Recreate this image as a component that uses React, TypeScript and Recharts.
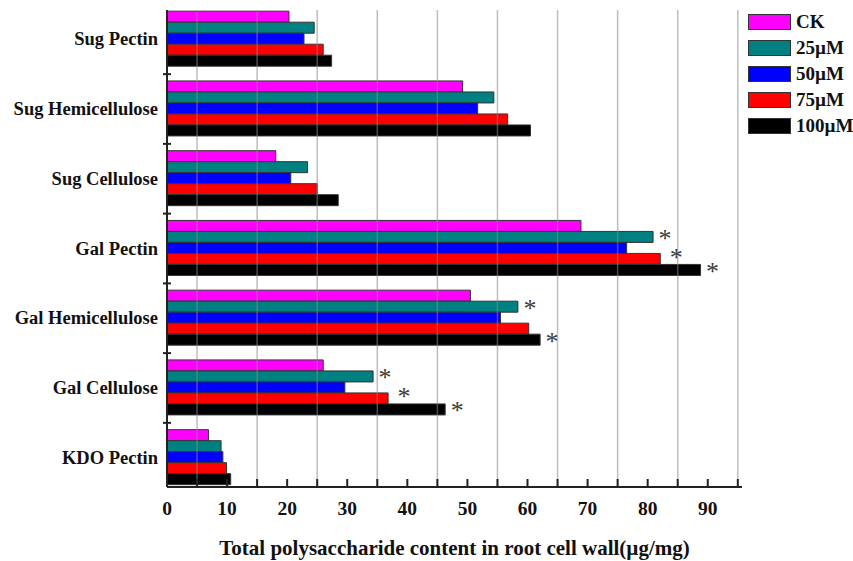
import React from 'react';
import { BarChart, Bar, XAxis, YAxis, ReferenceLine, LabelList } from 'recharts';

const categories = [
  'Sug Pectin',
  'Sug Hemicellulose',
  'Sug Cellulose',
  'Gal Pectin',
  'Gal Hemicellulose',
  'Gal Cellulose',
  'KDO Pectin',
];
const ck = [20.3, 49.2, 18.1, 68.9, 50.5, 26.0, 6.9];
const um25 = [24.5, 54.4, 23.4, 80.9, 58.4, 34.3, 9.0];
const um50 = [22.8, 51.7, 20.6, 76.5, 55.5, 29.6, 9.3];
const um75 = [26.0, 56.7, 25.0, 82.1, 60.2, 36.8, 9.9];
const um100 = [27.4, 60.5, 28.5, 88.8, 62.1, 46.3, 10.6];

// significance marks (*)
const star25 = [0, 0, 0, 1, 1, 1, 0];
const star75 = [0, 0, 0, 1, 0, 1, 0];
const star100 = [0, 0, 0, 1, 1, 1, 0];

const xTicks = [0, 5, 10, 15, 20, 25, 30, 35, 40, 45, 50, 55, 60, 65, 70, 75, 80, 85, 90, 95];
const gridValues = [5, 15, 25, 35, 45, 55, 65, 75, 85, 95];

const series = [
  { key: 'ck', name: 'CK', color: '#ff00ff' },
  { key: 'um25', name: '25\u00b5M', color: '#008080' },
  { key: 'um50', name: '50\u00b5M', color: '#0000ff' },
  { key: 'um75', name: '75\u00b5M', color: '#ff0000' },
  { key: 'um100', name: '100\u00b5M', color: '#000000' },
];

const data = categories.map((name, i) => ({
  name,
  ck: ck[i],
  um25: um25[i],
  um50: um50[i],
  um75: um75[i],
  um100: um100[i],
  s25: star25[i] ? '*' : '',
  s75: star75[i] ? '*' : '',
  s100: star100[i] ? '*' : '',
}));

const W = 853;
const H = 561;
const TOP = 10;
const X_AXIS_H = 74;
const Y_PAD = -5.6;
const PLOT_H = H - TOP - X_AXIS_H;
const BAND = (PLOT_H - 2 * Y_PAD) / categories.length;

const FONT = '"Liberation Serif", "Times New Roman", serif';

function YTick(props: any) {
  const { x, y, payload, index } = props;
  return (
    <g>
      <text x={x - 9} y={y} textAnchor="end" dominantBaseline="central"
        fontFamily={FONT} fontWeight="bold" fontSize={18.5} fill="#111">
        {payload.value}
      </text>
      {index < categories.length - 1 && (
        <line x1={x - 4} x2={x + 4} y1={y + BAND / 2} y2={y + BAND / 2} stroke="#222" strokeWidth={2} />
      )}
    </g>
  );
}

function XTick(props: any) {
  const { x, y, payload } = props;
  return (
    <g>
      <line x1={x} x2={x} y1={y - 8} y2={y} stroke="#222" strokeWidth={2} />
      {payload.value % 10 === 0 && (
        <text x={x} y={y + 21} textAnchor="middle" dominantBaseline="central"
          fontFamily={FONT} fontWeight="bold" fontSize={19.5} fill="#111">
          {payload.value}
        </text>
      )}
    </g>
  );
}

const makeStar = (dx: number, dy: number) => (props: any) => {
  const { x, y, width, height, value } = props;
  if (!value) return null;
  return (
    <text x={x + width + dx} y={y + height / 2 + dy} textAnchor="middle"
      fontFamily={FONT} fontSize={26} fill="#3a3a3a">
      *
    </text>
  );
};

export default function App() {
  return (
    <div style={{ position: 'absolute', left: 0, top: 0, width: W, height: H, background: '#fff' }}>
      <BarChart
        width={W}
        height={H}
        data={data}
        layout="vertical"
        margin={{ top: TOP, right: 111, bottom: 0, left: 0 }}
        barCategoryGap={6.8}
        barGap={0}
      >
        <XAxis
          type="number"
          domain={[0, 95.7]}
          ticks={xTicks}
          interval={0}
          height={X_AXIS_H}
          tickSize={0}
          tickMargin={0}
          tick={<XTick />}
          axisLine={{ stroke: '#222', strokeWidth: 2 }}
          allowDataOverflow
          label={{
            value: 'Total polysaccharide content in root cell wall(\u00b5g/mg)',
            position: 'insideBottom',
            offset: 6,
            style: { fontFamily: FONT, fontWeight: 'bold', fontSize: 21, fill: '#111' },
          }}
        />
        <XAxis
          xAxisId="top"
          orientation="top"
          type="number"
          domain={[0, 95.7]}
          height={0}
          tick={false}
          tickLine={false}
          axisLine={{ stroke: '#333', strokeWidth: 2 }}
        />
        <YAxis
          type="category"
          dataKey="name"
          width={167}
          padding={{ top: Y_PAD, bottom: Y_PAD }}
          tickSize={0}
          tickMargin={0}
          interval={0}
          tick={<YTick />}
          axisLine={{ stroke: '#222', strokeWidth: 2 }}
        />
        {series.map((s) => (
          <Bar key={s.key} dataKey={s.key} name={s.name} fill={s.color} stroke="#333" strokeWidth={1} isAnimationActive={false}>
            {s.key === 'um25' && <LabelList dataKey="s25" content={makeStar(12, 10)} />}
            {s.key === 'um75' && <LabelList dataKey="s75" content={makeStar(16, 7)} />}
            {s.key === 'um100' && <LabelList dataKey="s100" content={makeStar(12, 10)} />}
          </Bar>
        ))}
        {gridValues.map((v) => (
          <ReferenceLine key={v} x={v} stroke="#888" strokeOpacity={0.55} strokeWidth={1.5} />
        ))}
      </BarChart>
      <div style={{ position: 'absolute', left: 748, top: 9, fontFamily: FONT, fontWeight: 'bold', fontSize: 19, color: '#111' }}>
        {series.map((s) => (
          <div key={s.key} style={{ display: 'flex', alignItems: 'center', height: 26 }}>
            <div style={{ width: 41, height: 14, background: s.color, border: '1px solid #333', marginRight: 5 }} />
            <span>{s.name}</span>
          </div>
        ))}
      </div>
    </div>
  );
}
